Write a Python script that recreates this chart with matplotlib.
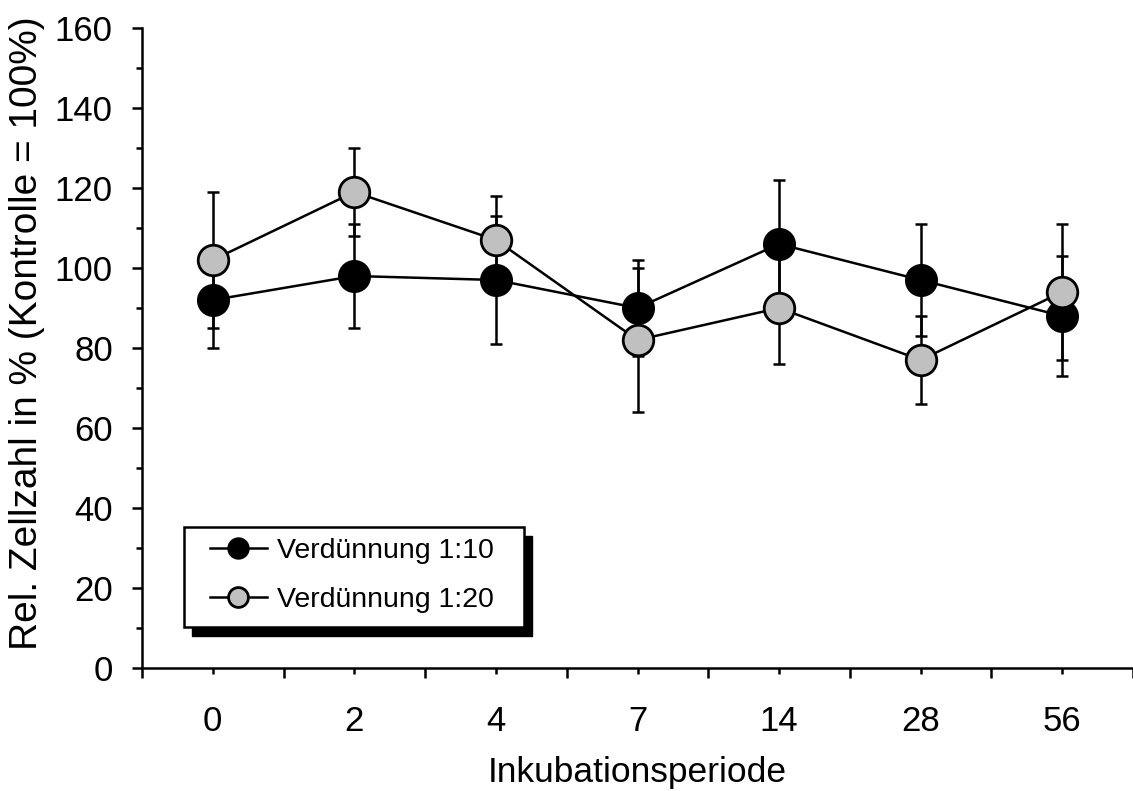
import numpy as np
import matplotlib.pyplot as plt
import matplotlib.transforms as mtransforms
from matplotlib.patches import Rectangle

plt.rcParams['font.family'] = ['Liberation Sans', 'DejaVu Sans']

# Daten
tage = ['0', '2', '4', '7', '14', '28', '56']
werte_10 = [92, 98, 97, 90, 106, 97, 88]
fehler_10 = [12, 13, 16, 12, 16, 14, 15]
werte_20 = [102, 119, 107, 82, 90, 77, 94]
fehler_20 = [17, 11, 11, 18, 14, 11, 17]

x = np.arange(len(tage))

fig = plt.figure(figsize=(11.33, 7.91), dpi=100)
ax = fig.add_axes([142 / 1133, 123 / 791, 991 / 1133, 640 / 791])

# Fehlerbalken hinter den Markern
ax.errorbar(x, werte_10, yerr=fehler_10, fmt='none', ecolor='black',
            elinewidth=1.8, capsize=4.5, capthick=1.8, zorder=2)
ax.errorbar(x, werte_20, yerr=fehler_20, fmt='none', ecolor='black',
            elinewidth=1.8, capsize=4.5, capthick=1.8, zorder=2)

l1, = ax.plot(x, werte_10, '-o', color='black', lw=1.8, ms=22,
              mfc='black', mec='black', mew=1.8, zorder=3, label='Verdünnung 1:10')
l2, = ax.plot(x, werte_20, '-o', color='black', lw=1.8, ms=22,
              mfc='#c0c0c0', mec='black', mew=2.0, zorder=4, label='Verdünnung 1:20')

ax.set_xlim(-0.5, 6.5)
ax.set_ylim(0, 160)

# x-Achse: lange Striche zwischen den Kategorien, kurze an den Punkten
ax.set_xticks(np.arange(-0.5, 7, 1))
ax.set_xticklabels([])
ax.set_xticks(x, minor=True)
ax.set_xticklabels(tage, minor=True)
ax.tick_params(axis='x', which='major', length=7, width=1.8, direction='out')
ax.tick_params(axis='x', which='minor', length=4.5, width=1.8, direction='out',
               labelsize=25, pad=22)

ax.set_yticks(np.arange(0, 161, 20))
ax.set_yticks(np.arange(10, 160, 20), minor=True)
ax.tick_params(axis='y', which='major', length=7, width=1.8, labelsize=25, pad=14)
ax.tick_params(axis='y', which='minor', length=4, width=1.8)

for s in ['top', 'right']:
    ax.spines[s].set_visible(False)
for s in ['left', 'bottom']:
    ax.spines[s].set_linewidth(1.8)

ax.set_xlabel('Inkubationsperiode', fontsize=25.5)
ax.xaxis.set_label_coords(0.5, -0.1375)
ax.set_ylabel('Rel. Zellzahl in % (Kontrolle = 100%)', fontsize=28)
ax.yaxis.set_label_coords(-0.098, 0.523)

# Legende mit schwarzem Schatten
x0, x1 = (184 - 142) / 991, (524 - 142) / 991
y0, y1 = (668 - 627) / 640, (668 - 527) / 640
schatten = mtransforms.offset_copy(ax.transAxes, fig=fig, x=8, y=-9, units='dots')
ax.add_patch(Rectangle((x0, y0), x1 - x0, y1 - y0, transform=schatten,
                       facecolor='black', edgecolor='black', zorder=5, clip_on=False))
ax.add_patch(Rectangle((x0, y0), x1 - x0, y1 - y0, transform=ax.transAxes,
                       facecolor='white', edgecolor='black', lw=1.8, zorder=6, clip_on=False))
leg = ax.legend(handles=[l1, l2], loc='center left',
                bbox_to_anchor=((210 - 142) / 991, (668 - 575.5) / 640),
                frameon=False, fontsize=20.5, markerscale=0.65, borderpad=0,
                borderaxespad=0, handlelength=2.0, handletextpad=0.35,
                labelspacing=0.8)
leg.set_zorder(7)

fig.savefig('out.png', dpi=100)
